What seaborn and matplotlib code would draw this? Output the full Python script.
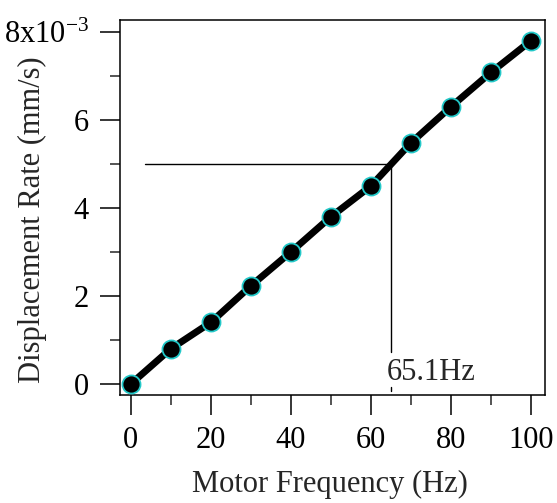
import matplotlib
matplotlib.use("Agg")
import matplotlib.pyplot as plt
import seaborn as sns
import pandas as pd
from matplotlib.ticker import MultipleLocator

# Data (displacement rate in units of 1e-3 mm/s)
freq = [0, 10, 20, 30, 40, 50, 60, 70, 80, 90, 100]
rate = [0.0, 0.8, 1.4, 2.23, 3.0, 3.8, 4.5, 5.48, 6.3, 7.08, 7.8]
y_ticks = [0, 2, 4, 6, 8]
y_ticklabels = ["0", "2", "4", "6", r"8x10$^{\mathregular{-3}}$"]
x_ticks = [0, 20, 40, 60, 80, 100]
target_rate = 5.0
target_freq = 65.1
target_label = "65.1Hz"

sns.set_style("ticks")
plt.rcParams["font.family"] = ["Liberation Serif", "DejaVu Serif"]
plt.rcParams["mathtext.fontset"] = "custom"
plt.rcParams["mathtext.rm"] = "Liberation Serif"
plt.rcParams["mathtext.it"] = "Liberation Serif:italic"

FS = 22

df = pd.DataFrame({"freq": freq, "rate": rate})

fig = plt.figure(figsize=(5.57, 5.03), dpi=100)
ax = fig.add_axes([0.2154, 0.2147, 0.7631, 0.7455])

sns.lineplot(data=df, x="freq", y="rate", ax=ax, color="black", linewidth=5,
             marker="o", markersize=13, markerfacecolor="black",
             markeredgecolor="#22c8c8", markeredgewidth=1.3, zorder=3)

# annotation lines
ax.plot([3.5, target_freq], [target_rate, target_rate], color="black", lw=1.0, zorder=2)
ax.plot([target_freq, target_freq], [target_rate, 0.73], color="black", lw=1.0, zorder=2)
ax.plot([target_freq, target_freq], [-0.07, -0.15], color="black", lw=1.0, zorder=2)
ax.text(64.0, 0.09, target_label, fontsize=FS, ha="left", va="baseline")

ax.set_xlim(-2.7, 103.5)
ax.set_ylim(-0.25, 8.27)
ax.set_xticks(x_ticks)
ax.set_yticks(y_ticks)
ax.set_yticklabels(y_ticklabels)
ax.xaxis.set_minor_locator(MultipleLocator(10))
ax.yaxis.set_minor_locator(MultipleLocator(1))
ax.tick_params(which="major", direction="out", length=14.4, width=1.1, labelsize=FS, colors="black", pad=8)
ax.tick_params(which="minor", direction="out", length=7.2, width=1.1)
for s in ax.spines.values():
    s.set_visible(True)
    s.set_linewidth(1.1)
    s.set_color("black")

ax.set_xlabel("")
ax.set_ylabel("")
fig.text(0.5916, 1 - 492 / 503, "Motor Frequency (Hz)", fontsize=FS, ha="center", va="baseline")
fig.text(32 / 557, 1 - 220 / 503, "Displacement Rate (mm/s)", fontsize=FS, rotation=90,
         ha="center", va="center")

fig.savefig("out.png", dpi=100)
